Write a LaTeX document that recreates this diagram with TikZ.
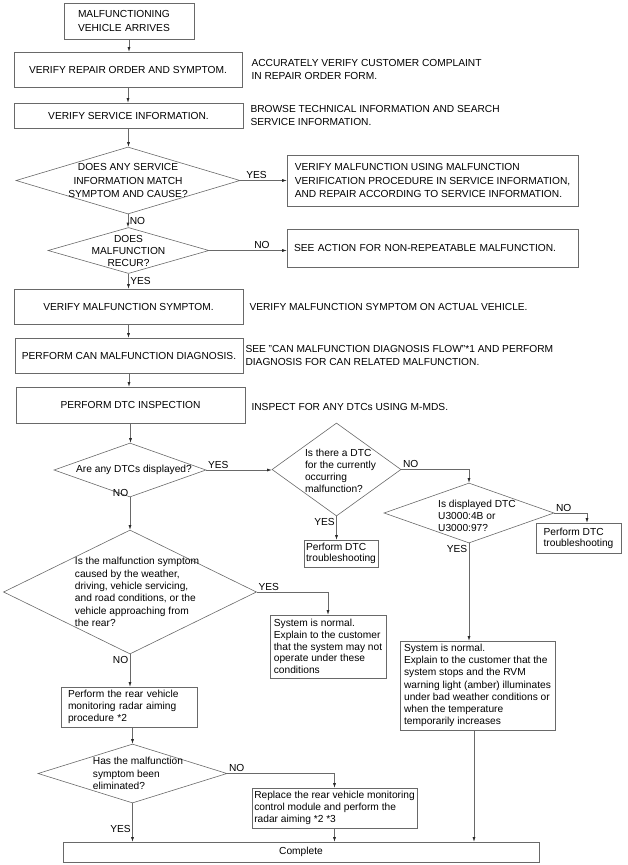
\documentclass[tikz,border=0pt]{standalone}
\usepackage{fontspec}
\setmainfont{Liberation Sans}
\usetikzlibrary{positioning,shapes.geometric,arrows.meta}
\definecolor{myline}{RGB}{105,105,105}
\definecolor{mytip}{RGB}{40,40,40}
\newcommand\flowup{\fontsize{10.2}{13.5}\selectfont}
\newcommand\flowlow{\fontsize{10.2}{12.2}\selectfont}

\begin{document}
\begin{tikzpicture}[x=1pt,y=-1pt,
		boxb/.style={
		  draw=myline,
		  line width=0.6pt,
		  inner sep=0pt,
		  align=center,
		  font=\flowup},
		tboxb/.style={boxb,align=left,font=\flowlow},
		diab/.style={diamond,draw=myline,line width=0.6pt,inner sep=0pt},
		qtext/.style={inner sep=0pt,align=left,font=\flowlow},
		sidet/.style={inner sep=0pt,align=left,font=\flowup},
		yn/.style={inner sep=1.5pt,font=\flowlow},
		flow/.style={draw=myline,line width=0.6pt,-{Latex[length=4.5pt,width=3pt,color=mytip]}},
		]
		\useasboundingbox (0,0) rectangle (627,865);
		% main column
		\node[boxb,align=left,minimum height=36pt,text width=102pt,inner xsep=14pt] (Arr) at (129,21) {MALFUNCTIONING\\VEHICLE ARRIVES};
		\node[boxb,minimum width=228pt,minimum height=35pt] (Rep) at (128,69.5) {VERIFY REPAIR ORDER AND SYMPTOM.};
		\node[sidet,right=9pt of Rep] (RepN) {ACCURATELY VERIFY CUSTOMER COMPLAINT\\IN REPAIR ORDER FORM.};
		\node[boxb,minimum width=229pt,minimum height=25pt] (Ser) at (128.5,115.5) {VERIFY SERVICE INFORMATION.};
		\node[sidet,right=7pt of Ser] (SerN) {BROWSE TECHNICAL INFORMATION AND SEARCH\\SERVICE INFORMATION.};
		\node[diab,minimum width=224pt,minimum height=67pt,
		  label={[qtext,align=center,font=\flowup]center:{DOES ANY SERVICE\\INFORMATION MATCH\\SYMPTOM AND CAUSE?}}] (Inf) at (128,180.5) {};
		\node[tboxb,font=\flowup,minimum width=291pt,minimum height=51pt] (VerA) at (432.5,180.5) {VERIFY MALFUNCTION USING MALFUNCTION\\VERIFICATION PROCEDURE IN SERVICE INFORMATION,\\AND REPAIR ACCORDING TO SERVICE INFORMATION.};
		\node[diab,minimum width=161pt,minimum height=46pt,
		  label={[qtext,align=center,font=\fontsize{10.2}{12}\selectfont]center:{DOES\\MALFUNCTION\\RECUR?}}] (Rec) at (128.5,250.5) {};
		\node[boxb,align=left,minimum height=38pt,text width=277pt,inner xsep=7pt] (NonR) at (432.5,248) {SEE ACTION FOR NON-REPEATABLE MALFUNCTION.};
		\node[boxb,minimum width=229pt,minimum height=35pt] (Sym) at (128.5,306.5) {VERIFY MALFUNCTION SYMPTOM.};
		\node[sidet,right=6pt of Sym] (SymN) {VERIFY MALFUNCTION SYMPTOM ON ACTUAL VEHICLE.};
		\node[boxb,minimum width=228pt,minimum height=35pt] (Can) at (129,355.5) {PERFORM CAN MALFUNCTION DIAGNOSIS.};
		\node[sidet,font=\fontsize{10.2}{12.5}\selectfont,right=2pt of Can] (CanN) {SEE "CAN MALFUNCTION DIAGNOSIS FLOW"*1 AND PERFORM\\DIAGNOSIS FOR CAN RELATED MALFUNCTION.};
		\node[boxb,minimum width=229pt,minimum height=36pt] (Dtc) at (130.5,405) {PERFORM DTC INSPECTION};
		\node[sidet,right=6pt of Dtc,yshift=-2pt] (DtcN) {INSPECT FOR ANY DTCs USING M-MDS.};
		% DTC branch
		\node[diab,minimum width=152pt,minimum height=54pt,
		  label={[qtext,xshift=4pt]center:{Are any DTCs displayed?}}] (Any) at (130,470) {};
		\node[diab,minimum width=129pt,minimum height=93pt,
		  label={[qtext,xshift=4pt,yshift=-1.5pt]center:{Is there a DTC\\for the currently\\occurring\\malfunction?}}] (Cur) at (336.5,469.5) {};
		\node[tboxb,minimum width=74pt,minimum height=27pt,font=\fontsize{10.2}{11}\selectfont] (Dt1) at (341,553.5) {Perform DTC\\troubleshooting};
		\node[diab,minimum width=170pt,minimum height=60pt,
		  label={[qtext,xshift=8pt,yshift=-3pt]center:{Is displayed DTC\\U3000:4B or\\U3000:97?}}] (Dis) at (469,513) {};
		\node[tboxb,minimum width=85pt,minimum height=30pt,font=\fontsize{10.2}{11}\selectfont] (Dt2) at (578.5,538) {Perform DTC\\troubleshooting};
		\node[tboxb,minimum width=155pt,minimum height=89pt] (Nrm2) at (477.5,685.5) {System is normal.\\Explain to the customer that the\\system stops and the RVM\\warning light (amber) illuminates\\under bad weather conditions or\\when the temperature\\temporarily increases};
		% no DTC branch
		\node[diab,minimum width=253pt,minimum height=124pt,
		  label={[qtext,xshift=7pt,font=\fontsize{10.2}{12.4}\selectfont]center:{Is the malfunction symptom\\caused by the weather,\\driving, vehicle servicing,\\and road conditions, or the\\vehicle approaching from\\the rear?}}] (Wea) at (130,592) {};
		\node[tboxb,minimum width=116pt,minimum height=63pt,font=\fontsize{10.2}{11.8}\selectfont] (Nrm1) at (328,646.5) {System is normal.\\Explain to the customer\\that the system may not\\operate under these\\conditions};
		\node[tboxb,minimum height=40pt,text width=122pt,inner xsep=7pt] (Aim) at (129,707) {Perform the rear vehicle\\monitoring radar aiming\\procedure *2};
		\node[diab,minimum width=189pt,minimum height=59pt,
		  label={[qtext,xshift=5.5pt]center:{Has the malfunction\\symptom been\\eliminated?}}] (Elim) at (132.5,773.5) {};
		\node[tboxb,minimum width=165pt,minimum height=40pt] (Rpl) at (334.5,808) {Replace the rear vehicle monitoring\\control module and perform the\\radar aiming *2 *3};
		\node[boxb,font=\flowlow,minimum width=476pt,minimum height=20pt] (Com) at (301,852) {Complete};
		% connectors
		\draw[flow] (Arr.south) -- (Arr.south |- Rep.north);
		\draw[flow] (Rep.south) -- (Rep.south |- Ser.north);
		\draw[flow] (Ser.south) -- (Ser.south |- Inf.north);
		\draw[flow] (Inf.east) -- node[yn,above,pos=0.35] (yInf) {YES} (Inf.east -| VerA.west);
		\draw[flow] (Inf.south) -- node[yn,right] (nInf) {NO} (Inf.south |- Rec.north);
		\draw[flow] (Rec.east) -- node[yn,above,pos=0.68] (nRec) {NO} (Rec.east -| NonR.west);
		\draw[flow] (Rec.south) -- node[yn,right] (yRec) {YES} (Rec.south |- Sym.north);
		\draw[flow] (Sym.south) -- (Sym.south |- Can.north);
		\draw[flow] (Can.south) -- (Can.south |- Dtc.north);
		\draw[flow] (Dtc.south) -- (Dtc.south |- Any.north);
		\draw[flow] (Any.east) -- node[yn,above right,pos=0] (yAny) {YES} (Any.east -| Cur.west);
		\draw[flow] (Any.south) -- node[yn,left,pos=0,yshift=4pt] (nAny) {NO} (Any.south |- Wea.north);
		\draw[flow] (Cur.east) -| node[yn,above right,pos=0] (nCur) {NO} (Dis.north);
		\draw[flow] (Cur.south) -- node[yn,below left,pos=0] (yCur) {YES} (Cur.south |- Dt1.north);
		\draw[flow] (Dis.east) -| node[yn,above right,pos=0] (nDis) {NO} ([xshift=8.5pt]Dt2.north);
		\draw[flow] (Dis.south) -- node[yn,below left,pos=0] (yDis) {YES} (Dis.south |- Nrm2.north);
		\draw[flow] (Wea.east) -| node[yn,above right,pos=0] (yWea) {YES} (Nrm1.north);
		\draw[flow] (Wea.south) -- node[yn,below left,pos=0] (nWea) {NO} (Wea.south |- Aim.north);
		\draw[flow] (Aim.south -| Elim.north) -- (Elim.north);
		\draw[flow] (Elim.east) -| node[yn,above right,pos=0] (nElim) {NO} (Rpl.north);
		\draw[flow] (Elim.south) -- node[yn,left,pos=0.67] (yElim) {YES} (Elim.south |- Com.north);
		\draw[flow] (Rpl.south) -- (Rpl.south |- Com.north);
		\draw[flow] ([xshift=-3.5pt]Nrm2.south) -- ([xshift=-3.5pt]Nrm2.south |- Com.north);
\end{tikzpicture}
\end{document}
